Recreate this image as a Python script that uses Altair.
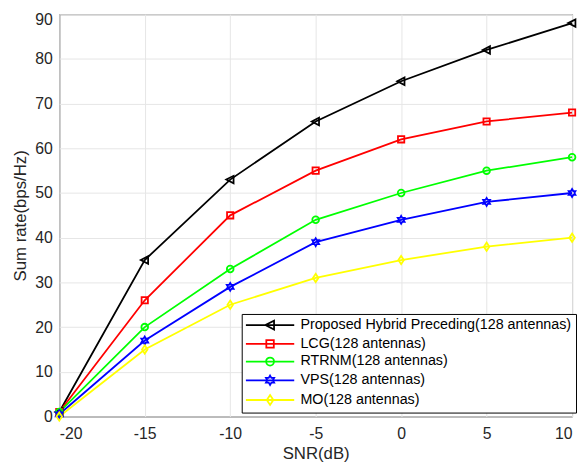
import altair as alt
import pandas as pd

snr = [-20, -15, -10, -5, 0, 5, 10]
series_names = [
    "Proposed Hybrid Preceding(128 antennas)",
    "LCG(128 antennas)",
    "RTRNM(128 antennas)",
    "VPS(128 antennas)",
    "MO(128 antennas)",
]
proposed = [1, 35, 53, 66, 75, 82, 88]
lcg = [1, 26, 45, 55, 62, 66, 68]
rtrnm = [1, 20, 33, 44, 50, 55, 58]
vps = [0.5, 17, 29, 39, 44, 48, 50]
mo = [0, 15, 25, 31, 35, 38, 40]
colors = ["#000000", "#ff0000", "#00ff00", "#0000ff", "#ffff00"]

rows = []
for name, vals in zip(series_names, [proposed, lcg, rtrnm, vps, mo]):
    for x, y in zip(snr, vals):
        rows.append({"snr": x, "rate": y, "series": name})
df = pd.DataFrame(rows)

# marker outlines in unit coordinates
def poly(pts):
    return "M" + "L".join(f"{x:.3f},{y:.3f}" for x, y in pts) + "Z"

tri_left = [(-1.0, 0.0), (0.85, -0.95), (0.85, 0.95)]
square = [(-0.8, -0.8), (0.8, -0.8), (0.8, 0.8), (-0.8, 0.8)]
diamond = [(0.0, -1.05), (0.7, 0.0), (0.0, 1.05), (-0.7, 0.0)]
hexa = [(0, -1), (0.289, -0.5), (0.866, -0.5), (0.577, 0), (0.866, 0.5), (0.289, 0.5),
        (0, 1), (-0.289, 0.5), (-0.866, 0.5), (-0.577, 0), (-0.866, -0.5), (-0.289, -0.5)]

def circle(r=0.85, cx=0.0):
    return (f"M{cx - r:.3f},0A{r},{r},0,1,0,{cx + r:.3f},0"
            f"A{r},{r},0,1,0,{cx - r:.3f},0Z")

def marker_path(kind, s=1.0, dx=0.0):
    if kind == "circle":
        return circle(0.85 * s, dx)
    pts = {"tri": tri_left, "sq": square, "dia": diamond, "hex": hexa}[kind]
    return poly([(x * s + dx, y * s) for x, y in pts])

kinds = ["tri", "sq", "circle", "hex", "dia"]
chart_shapes = [marker_path(k) for k in kinds]
legend_shapes = ["M-1.4,0L8.4,0" + marker_path(k, 0.95, 3.5) for k in kinds]

font = "Liberation Sans"
xenc = alt.X("snr:Q", scale=alt.Scale(domain=[-20, 10], nice=False),
             axis=alt.Axis(values=snr, title="SNR(dB)", labelExpr="'' + datum.value"))
yenc = alt.Y("rate:Q", scale=alt.Scale(domain=[0, 90], nice=False),
             axis=alt.Axis(values=list(range(0, 91, 10)), title="Sum rate(bps/Hz)",
                           labelExpr="'' + datum.value",
                           labelBaseline={"condition": {"test": "datum.value == 90", "value": "top"},
                                          "value": "middle"},
                           labelOffset={"condition": {"test": "datum.value == 90", "value": -3},
                                        "value": 0}))
cscale = alt.Scale(domain=series_names, range=colors)

leg = alt.Legend(
    title=None, orient="none", legendX=185, legendY=304,
    symbolSize=100, symbolStrokeWidth=1.8, symbolOpacity=1,
    labelOffset=41, labelFont=font, labelFontSize=14.5, labelColor="#000000",
    labelLimit=400, rowPadding=2, padding=4,
    strokeColor="#000000", fillColor="#ffffff", cornerRadius=0,
)
legend_layer = alt.Chart(df).mark_point(filled=False, strokeWidth=1.8, opacity=0).encode(
    x=xenc, y=yenc,
    color=alt.Color("series:N", scale=cscale, legend=leg, sort=series_names),
    shape=alt.Shape("series:N", scale=alt.Scale(domain=series_names, range=legend_shapes),
                    legend=leg, sort=series_names),
)

lines = alt.Chart(df).mark_line(strokeWidth=1.8).encode(
    x=xenc, y=yenc,
    color=alt.Color("series:N", scale=cscale),
    detail="series:N",
)

point_layers = []
for name, shp in zip(series_names, chart_shapes):
    point_layers.append(
        alt.Chart(df).transform_filter(alt.datum.series == name)
        .mark_point(filled=False, strokeWidth=1.8, size=64, opacity=1, shape=shp)
        .encode(x=xenc, y=yenc, color=alt.Color("series:N", scale=cscale))
    )

chart = alt.layer(legend_layer, lines, *point_layers).properties(
    width=520, height=408,
    autosize=alt.AutoSizeParams(type="none"),
    padding={"left": 52, "top": 3, "right": 5, "bottom": 53},
).configure_view(
    stroke="#262626", strokeWidth=1,
).configure_axis(
    grid=True, gridColor="#e6e6e6", gridWidth=1,
    domain=False, ticks=False,
    labelFont=font, labelFontSize=16, labelColor="#262626",
    titleFont=font, titleFontSize=17, titleColor="#262626", titleFontWeight="normal",
).configure_axisX(
    labelPadding=9, titlePadding=5,
).configure_axisY(
    labelPadding=7, titlePadding=5,
)

chart.save("out.html", embed_options={"renderer": "svg", "actions": False})
